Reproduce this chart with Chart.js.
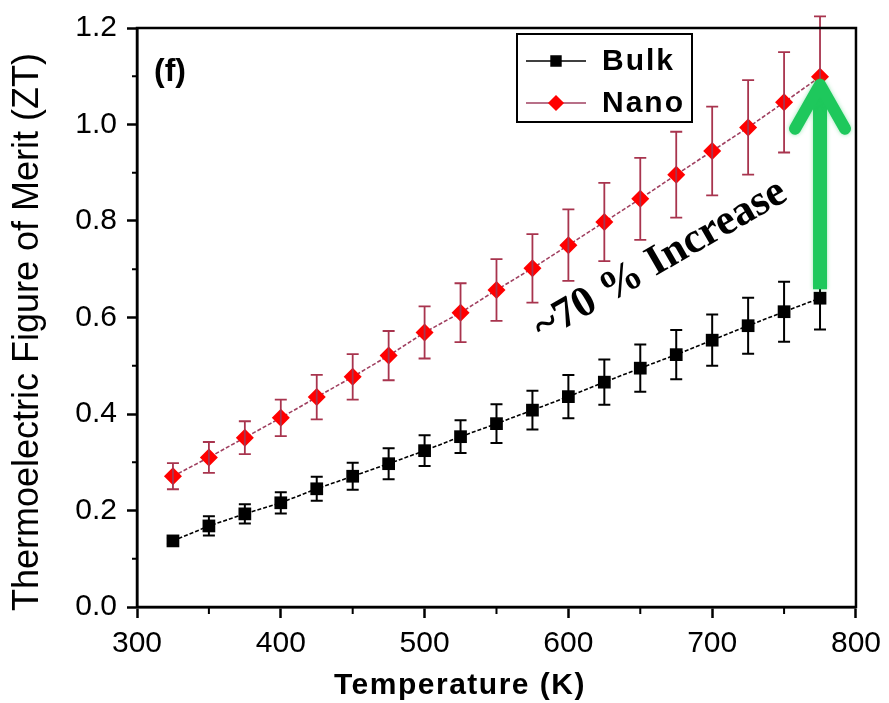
<!DOCTYPE html>
<html>
<head>
<meta charset="UTF-8">
<title>Thermoelectric Figure of Merit</title>
<style>
  body { margin: 0; background: #fff; }
  #wrap { width: 889px; height: 703px; }
</style>
</head>
<body>
<div id="wrap"><canvas id="ztChart" width="889" height="703"></canvas></div>
<script src="https://cdn.jsdelivr.net/npm/chart.js"></script>
<script>
// data
const temps   = [325, 350, 375, 400, 425, 450, 475, 500, 525, 550, 575, 600, 625, 650, 675, 700, 725, 750, 775];
const bulkZT  = [0.137, 0.168, 0.193, 0.216, 0.245, 0.271, 0.297, 0.324, 0.353, 0.380, 0.408, 0.436, 0.466, 0.495, 0.523, 0.553, 0.583, 0.612, 0.640];
const bulkErr = [0.006, 0.020, 0.020, 0.022, 0.025, 0.028, 0.032, 0.032, 0.034, 0.040, 0.040, 0.045, 0.047, 0.049, 0.051, 0.053, 0.058, 0.062, 0.065];
const nanoZT  = [0.271, 0.310, 0.351, 0.392, 0.435, 0.477, 0.521, 0.569, 0.610, 0.657, 0.702, 0.750, 0.798, 0.846, 0.896, 0.945, 0.994, 1.046, 1.099];
const nanoErr = [0.027, 0.032, 0.034, 0.038, 0.046, 0.047, 0.051, 0.054, 0.061, 0.064, 0.071, 0.074, 0.081, 0.085, 0.089, 0.092, 0.098, 0.104, 0.125];
const xTicks  = [300, 400, 500, 600, 700, 800];
const yTicks  = [0.0, 0.2, 0.4, 0.6, 0.8, 1.0, 1.2];

const nanoBarColor = '#a8344e';
const arrowGreen = '#1ec85c';

const toPoints = (ys) => ys.map((y, i) => ({ x: temps[i], y: y }));

// error bars, frame, minor ticks, legend and annotations
const decorPlugin = {
  id: 'decor',
  afterDatasetsDraw(chart) {
    const ctx = chart.ctx;
    const xs = chart.scales.x, ys = chart.scales.y;
    const area = chart.chartArea;

    function errorBars(vals, errs, color, width) {
      ctx.save();
      ctx.strokeStyle = color;
      ctx.lineWidth = width;
      vals.forEach((v, i) => {
        const px = xs.getPixelForValue(temps[i]);
        const top = ys.getPixelForValue(v + errs[i]);
        const bot = ys.getPixelForValue(v - errs[i]);
        ctx.beginPath();
        ctx.moveTo(px, top); ctx.lineTo(px, bot);
        ctx.moveTo(px - 6, top); ctx.lineTo(px + 6, top);
        ctx.moveTo(px - 6, bot); ctx.lineTo(px + 6, bot);
        ctx.stroke();
      });
      ctx.restore();
    }
    errorBars(bulkZT, bulkErr, '#000', 2);
    errorBars(nanoZT, nanoErr, nanoBarColor, 1.8);

    // frame
    ctx.save();
    ctx.strokeStyle = '#000';
    ctx.lineWidth = 2.5;
    ctx.strokeRect(area.left, area.top, area.right - area.left, area.bottom - area.top);

    // minor ticks
    ctx.lineWidth = 2;
    ctx.beginPath();
    for (let t = 350; t < 800; t += 100) {
      const px = xs.getPixelForValue(t);
      ctx.moveTo(px, area.bottom); ctx.lineTo(px, area.bottom + 7);
    }
    for (let v = 0.1; v < 1.2; v += 0.2) {
      const py = ys.getPixelForValue(v);
      ctx.moveTo(area.left, py); ctx.lineTo(area.left - 5, py);
    }
    ctx.stroke();
    ctx.restore();

    // green arrow from bulk to nano at the last temperature
    const last = temps.length - 1;
    const ax = xs.getPixelForValue(temps[last]);
    const yFrom = ys.getPixelForValue(bulkZT[last]) - 9;
    const yTo = ys.getPixelForValue(nanoZT[last]) + 4;
    ctx.save();
    ctx.strokeStyle = arrowGreen;
    ctx.shadowColor = 'rgba(30,200,92,0.45)';
    ctx.shadowBlur = 4;
    ctx.lineWidth = 14;
    ctx.beginPath();
    ctx.moveTo(ax, yFrom); ctx.lineTo(ax, yTo + 6);
    ctx.stroke();
    ctx.lineCap = 'round';
    ctx.lineJoin = 'round';
    ctx.lineWidth = 12;
    ctx.beginPath();
    ctx.moveTo(ax - 25, yTo + 48);
    ctx.lineTo(ax, yTo + 4);
    ctx.lineTo(ax + 25, yTo + 48);
    ctx.stroke();
    ctx.restore();

    // rotated annotation
    ctx.save();
    ctx.translate(xs.getPixelForValue(664), ys.getPixelForValue(0.718));
    ctx.rotate(-30 * Math.PI / 180);
    ctx.fillStyle = '#000';
    ctx.font = 'bold 43px "Liberation Serif", "Times New Roman", serif';
    ctx.textAlign = 'center';
    ctx.textBaseline = 'middle';
    ctx.fillText('~70 % Increase', 0, 0);
    ctx.restore();

    // panel label
    ctx.save();
    ctx.fillStyle = '#000';
    ctx.font = 'bold 32px "Liberation Sans", Arial, sans-serif';
    ctx.textBaseline = 'alphabetic';
    ctx.fillText('(f)', 154, 81);
    ctx.restore();

    // legend box
    ctx.save();
    ctx.strokeStyle = '#000';
    ctx.lineWidth = 2;
    ctx.strokeRect(517, 34, 175, 88);
    const rows = [
      { label: 'Bulk', y: 61, line: '#000', fill: '#000', style: 'rect' },
      { label: 'Nano', y: 103, line: '#a04060', fill: '#ff0000', style: 'rectRot' }
    ];
    rows.forEach(r => {
      ctx.strokeStyle = r.line;
      ctx.lineWidth = 1.5;
      ctx.beginPath();
      ctx.moveTo(526, r.y); ctx.lineTo(586, r.y);
      ctx.stroke();
      ctx.fillStyle = r.fill;
      ctx.strokeStyle = r.fill;
      Chart.helpers.drawPoint(ctx, { pointStyle: r.style, radius: 7, rotation: 0, borderWidth: 1 }, 556, r.y);
      ctx.fillStyle = '#000';
      ctx.font = 'bold 30px "Liberation Sans", Arial, sans-serif';
      ctx.letterSpacing = '2px';
      ctx.textBaseline = 'middle';
      ctx.fillText(r.label, 602, r.y + 1);
      ctx.letterSpacing = '0px';
    });
    ctx.restore();

    // axis titles
    ctx.save();
    ctx.fillStyle = '#000';
    ctx.textAlign = 'center';
    ctx.textBaseline = 'middle';
    ctx.font = 'bold 30px "Liberation Sans", Arial, sans-serif';
    ctx.letterSpacing = '1.5px';
    ctx.fillText('Temperature (K)', 460, 686);
    ctx.letterSpacing = '0px';
    ctx.translate(28, 332);
    ctx.rotate(-Math.PI / 2);
    ctx.font = '36px "Liberation Sans", Arial, sans-serif';
    ctx.fillText('Thermoelectric Figure of Merit (ZT)', 0, 0);
    ctx.restore();
  }
};

const ctx = document.getElementById('ztChart').getContext('2d');
new Chart(ctx, {
  type: 'line',
  data: {
    datasets: [
      {
        label: 'Bulk',
        data: toPoints(bulkZT),
        borderColor: '#000',
        borderWidth: 1.6,
        borderDash: [4, 2],
        backgroundColor: '#000',
        pointStyle: 'rect',
        pointRadius: 9,
        pointBorderWidth: 0,
        pointBackgroundColor: '#000',
        tension: 0
      },
      {
        label: 'Nano',
        data: toPoints(nanoZT),
        borderColor: '#a04060',
        borderWidth: 1.6,
        borderDash: [4, 2],
        backgroundColor: '#ff0000',
        pointStyle: 'rectRot',
        pointRadius: 9,
        pointBorderWidth: 0,
        pointBackgroundColor: '#ff0000',
        tension: 0
      }
    ]
  },
  options: {
    responsive: false,
    animation: false,
    events: [],
    layout: { padding: { left: 0, right: 32, top: 23, bottom: 0 } },
    plugins: {
      legend: { display: false },
      tooltip: { enabled: false }
    },
    scales: {
      x: {
        type: 'linear',
        min: 300,
        max: 800,
        afterFit(scale) { scale.height = 96; },
        afterBuildTicks(scale) { scale.ticks = xTicks.map(v => ({ value: v })); },
        grid: { drawOnChartArea: false, drawTicks: true, tickLength: 11, tickWidth: 2.5, tickColor: '#000' },
        border: { display: true, color: '#000', width: 2.5 },
        ticks: {
          color: '#000',
          padding: 8,
          maxRotation: 0,
          font: { family: '"Liberation Sans", Arial, sans-serif', size: 30 },
          callback: (v) => String(v)
        }
      },
      y: {
        type: 'linear',
        min: 0,
        max: 1.2,
        afterFit(scale) { scale.width = 137; },
        afterBuildTicks(scale) { scale.ticks = yTicks.map(v => ({ value: v })); },
        grid: { drawOnChartArea: false, drawTicks: true, tickLength: 10, tickWidth: 2.5, tickColor: '#000' },
        border: { display: true, color: '#000', width: 2.5 },
        ticks: {
          color: '#000',
          padding: 10,
          font: { family: '"Liberation Sans", Arial, sans-serif', size: 30 },
          callback: (v) => v.toFixed(1)
        }
      }
    }
  },
  plugins: [decorPlugin]
});
</script>
</body>
</html>
